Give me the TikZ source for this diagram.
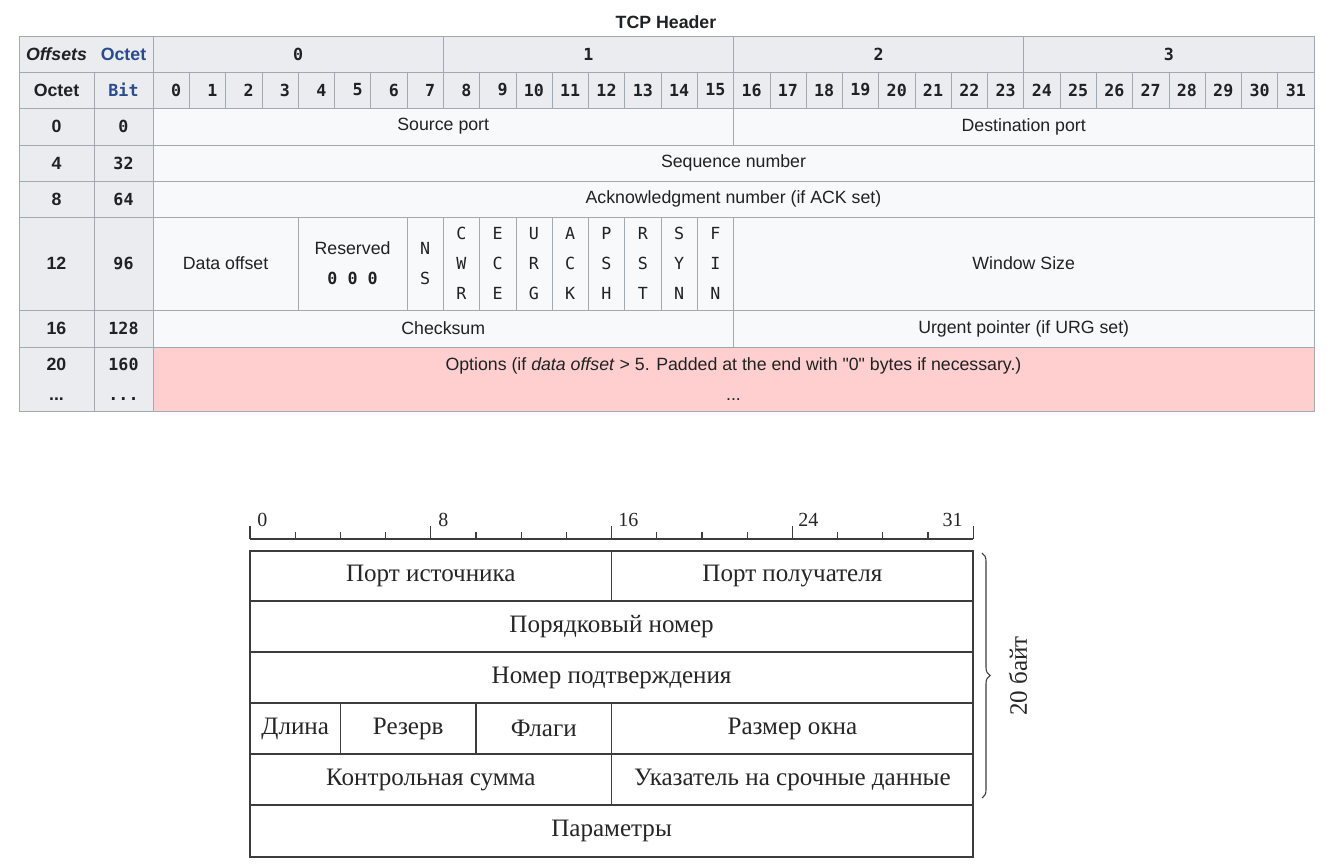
\documentclass[tikz,border=0pt]{standalone}
\usepackage{fontspec}
\setmainfont{Liberation Serif}
\setsansfont{Liberation Sans}
\setmonofont{DejaVu Sans Mono}
\newfontfamily\plainsans{Liberation Sans}
\usetikzlibrary{decorations.pathreplacing}
\definecolor{wikihead}{HTML}{EAECF0}
\definecolor{wikicell}{HTML}{F8F9FA}
\definecolor{wikiline}{HTML}{A2A9B1}
\definecolor{wikitext}{HTML}{202122}
\definecolor{wikiblue}{HTML}{2A4B8D}
\definecolor{wikipink}{HTML}{FFCFCF}
\definecolor{pktline}{HTML}{3C3C3C}
\newcommand{\tabsans}{\sffamily\fontsize{13.3}{22.5}\selectfont}
\newcommand{\tabmono}{\ttfamily\bfseries\fontsize{12.5}{22.5}\selectfont}
\newcommand{\flagmono}{\ttfamily\fontsize{12.5}{22.5}\selectfont}
\newcommand{\pktserif}{\rmfamily\fontsize{18.8}{22}\selectfont}
\newcommand{\dq}{{\plainsans\symbol{34}}}
% one field of the wiki table / of the book drawing, given by its bits
\newcommand{\wfield}[7][cell]{\node[#1, minimum width={36.28*((#4)-(#3))*0.75pt},
    minimum height={((#6)-(#5))*0.75pt}] (#2) at ({153+36.28*((#3)+(#4))/2},{((#5)+(#6))/2}) {#7};}
\newcommand{\pfield}[7][pktbox]{\node[#1, minimum width={22.6*((#4)-(#3))*0.75pt},
    minimum height={((#6)-(#5))*0.75pt}] (#2) at ({250+22.6*((#3)+(#4))/2},{((#5)+(#6))/2}) {#7};}

\begin{document}
\begin{tikzpicture}[x=0.75pt, y=-0.75pt,
    cell/.style={draw=wikiline, fill=wikicell, inner sep=0pt, align=center,
                 font=\tabsans, text=wikitext},
    hdr/.style={cell, fill=wikihead, font=\tabsans\bfseries},
    hdrmono/.style={hdr, font=\tabmono},
    flag/.style={cell, font=\flagmono},
    opt/.style={cell, fill=wikipink},
    pktbox/.style={draw=pktline, line width=1.1pt, inner sep=0pt, font=\pktserif, text=black!85},
    ruler/.style={draw=pktline, line width=1pt},
    tick/.style={font=\rmfamily\fontsize{15}{15}\selectfont, text=black!85, inner sep=0pt, anchor=base west},
]
    \fill[white] (0,0) rectangle (1331,864);
    \useasboundingbox (0,0) rectangle (1331,864);

    % --- TCP header, wiki table ---
    \node[font=\tabsans\bfseries, text=wikitext] (title) at (666,22) {TCP Header};

    \node[hdr, minimum width={134*0.75pt}, minimum height={36*0.75pt}] (corner) at (86,54) {};
    \node[font=\tabsans\bfseries\itshape, text=wikitext] (offsets) at (56.5,54) {Offsets};
    \node[font=\tabsans\bfseries, text=wikiblue] (octettop) at (123.5,54) {Octet};
    \foreach \o in {0,...,3}
        \wfield[hdrmono]{byte\o}{8*\o}{8*\o+8}{36}{72}{\o};

    \node[hdr, minimum width={75*0.75pt}, minimum height={36*0.75pt}] (octethdr) at (56.5,90) {Octet};
    \node[hdrmono, minimum width={59*0.75pt}, minimum height={36*0.75pt}, text=wikiblue] (bithdr) at (123.5,90) {Bit};
    \foreach \i in {0,...,31}
        \wfield[hdrmono]{bit\i}{\i}{\i+1}{72}{108}{\ifnum\i<10 \hphantom{0}\fi\i};

    \foreach \t/\u/\o/\n [count=\k] in {108/145/0/0, 145/181/4/32, 181/217/8/64,
                                        217/310/12/96, 310/347/16/128, 347/411/20/160} {
        \node[hdr, minimum width={75*0.75pt}, minimum height={(\u-\t)*0.75pt}] (octrow\k) at (56.5,{(\t+\u)/2}) {};
        \node[hdrmono, minimum width={59*0.75pt}, minimum height={(\u-\t)*0.75pt}] (bitrow\k) at (123.5,{(\t+\u)/2}) {};
    }
    \foreach \k/\o/\n in {1/0/0, 2/4/32, 3/8/64, 4/12/96, 5/16/128} {
        \node[font=\tabsans\bfseries, text=wikitext] at (octrow\k) {\o};
        \node[font=\tabmono, text=wikitext] at (bitrow\k) {\n};
    }
    \node[font=\tabsans\bfseries, text=wikitext, align=center] (octmore) at (octrow6) {20\\...};
    \node[font=\tabmono, text=wikitext, align=center] (bitmore) at (bitrow6) {160\\...};

    \wfield{srcport}{0}{16}{108}{145}{Source port}
    \wfield{dstport}{16}{32}{108}{145}{Destination port}
    \wfield{seqnum}{0}{32}{145}{181}{Sequence number}
    \wfield{acknum}{0}{32}{181}{217}{Acknowledgment number (if ACK set)}
    \wfield{dataoff}{0}{4}{217}{310}{Data offset}
    \wfield{reserved}{4}{7}{217}{310}{\fontsize{13.3}{21}\selectfont Reserved\\{\tabmono 0 0 0}}
    \wfield[flag]{ns}{7}{8}{217}{310}{\fontsize{12.5}{21}\selectfont N\\S}
    \foreach \f/\la/\lb/\lc [count=\k from 8] in {cwr/C/W/R, ece/E/C/E, urg/U/R/G, ack/A/C/K,
                                                  psh/P/S/H, rst/R/S/T, syn/S/Y/N, fin/F/I/N}
        \wfield[flag]{\f}{\k}{\k+1}{217}{310}{\la\\\lb\\\lc};
    \wfield{window}{16}{32}{217}{310}{Window Size}
    \wfield{checksum}{0}{16}{310}{347}{Checksum}
    \wfield{urgent}{16}{32}{310}{347}{Urgent pointer (if URG set)}
    \wfield[opt]{options}{0}{32}{347}{411}{Options (if \textit{data offset} > 5. Padded at the end with \dq0\dq{} bytes if necessary.)\\...}

    % --- TCP header, book drawing ---
    \draw[ruler] (250,539) -- (973,539);
    \foreach \i in {2,4,6,10,12,14,18,20,22,26,28,30}
        \draw[ruler] ({250+22.6*\i},539) -- ({250+22.6*\i},532);
    \foreach \i in {0,8,16,24,32}
        \draw[ruler] ({250+22.6*\i},539) -- ({250+22.6*\i},526);
    \node[tick] (lbl0) at (257,526) {0};
    \node[tick] (lbl8) at (438,526) {8};
    \node[tick] (lbl16) at (618,526) {16};
    \node[tick] (lbl24) at (798,526) {24};
    \node[tick, anchor=base east] (lbl31) at (963,526) {31};

    \pfield{srcp}{0}{16}{551}{601}{Порт источника}
    \pfield{dstp}{16}{32}{551}{601}{Порт получателя}
    \pfield{seqn}{0}{32}{601}{652}{Порядковый номер}
    \pfield{ackn}{0}{32}{652}{703}{Номер подтверждения}
    \pfield{hlen}{0}{4}{703}{754}{Длина}
    \pfield{resv}{4}{10}{703}{754}{Резерв}
    \pfield{flags}{10}{16}{703}{754}{Флаги}
    \pfield{wnd}{16}{32}{703}{754}{Размер окна}
    \pfield{csum}{0}{16}{754}{805}{Контрольная сумма}
    \pfield{urgp}{16}{32}{754}{805}{Указатель на срочные данные}
    \pfield{params}{0}{32}{805}{857}{Параметры}

    \coordinate (bracetop) at (982,553);
    \coordinate (bracebot) at (982,798);
    \draw[pktline, line width=0.8pt, decorate, decoration={brace, amplitude=6pt}] (bracetop) -- (bracebot);
    \node[rotate=90, font=\pktserif, text=black!85] (bytes) at (1018,676) {20 байт};
\end{tikzpicture}
\end{document}
